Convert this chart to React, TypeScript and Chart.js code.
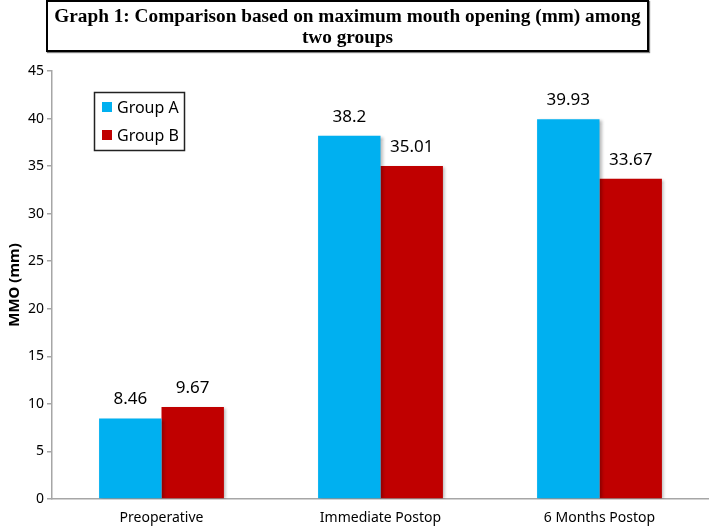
import React, { useEffect, useRef } from "react";
import { Chart, registerables } from "chart.js";

Chart.register(...registerables);

const categories = ["Preoperative", "Immediate Postop", "6 Months Postop"];
const groupA = [8.46, 38.2, 39.93];
const groupB = [9.67, 35.01, 33.67];
const seriesNames = ["Group A", "Group B"];
const seriesColors = ["#00B0F0", "#C00000"];
const yTicks = [0, 5, 10, 15, 20, 25, 30, 35, 40, 45];
const titleLines = ["Graph 1: Comparison based on maximum mouth opening (mm) among", "two groups"];
const yTitle = "MMO (mm)";

const FONT = "'Noto Sans', 'Open Sans', sans-serif";

const shadowPlugin = {
  id: "barShadow",
  beforeDatasetsDraw(chart: any) {
    const ctx = chart.ctx;
    ctx.save();
    ctx.shadowColor = "rgba(0,0,0,0.28)";
    ctx.shadowBlur = 3;
    ctx.shadowOffsetX = 2;
    ctx.shadowOffsetY = 1;
  },
  afterDatasetsDraw(chart: any) {
    chart.ctx.restore();
  },
};

const labelPlugin = {
  id: "valueLabels",
  afterDraw(chart: any) {
    const ctx = chart.ctx;
    ctx.save();
    ctx.font = `17px ${FONT}`;
    ctx.fillStyle = "#000";
    ctx.textAlign = "center";
    ctx.textBaseline = "middle";
    chart.data.datasets.forEach((ds: any, i: number) => {
      const meta = chart.getDatasetMeta(i);
      meta.data.forEach((bar: any, j: number) => {
        ctx.fillText(String(ds.data[j]), bar.x, bar.y - 19);
      });
    });
    ctx.restore();
  },
};

const legendPlugin = {
  id: "insideLegend",
  afterDraw(chart: any) {
    const ctx = chart.ctx;
    const x0 = 94.5, y0 = 92.5, w = 90, h = 58;
    ctx.save();
    ctx.fillStyle = "#fff";
    ctx.fillRect(x0, y0, w, h);
    ctx.strokeStyle = "#222";
    ctx.lineWidth = 1.5;
    ctx.strokeRect(x0, y0, w, h);
    ctx.font = `16px ${FONT}`;
    ctx.textBaseline = "middle";
    ctx.textAlign = "left";
    chart.data.datasets.forEach((ds: any, i: number) => {
      const cy = 107 + i * 28;
      ctx.fillStyle = ds.backgroundColor;
      ctx.fillRect(102, cy - 5, 10, 10);
      ctx.fillStyle = "#000";
      ctx.fillText(ds.label, 117, cy + 1);
    });
    ctx.restore();
  },
};

export default function App() {
  const ref = useRef<HTMLCanvasElement | null>(null);
  useEffect(() => {
    if (!ref.current) return;
    const chart = new Chart(ref.current, {
      type: "bar",
      data: {
        labels: categories,
        datasets: [
          { label: seriesNames[0], data: groupA, backgroundColor: seriesColors[0] },
          { label: seriesNames[1], data: groupB, backgroundColor: seriesColors[1] },
        ],
      },
      options: {
        animation: false,
        responsive: false,
        layout: { padding: { top: 71, left: 0, right: 0, bottom: 0 } },
        datasets: { bar: { categoryPercentage: 0.57, barPercentage: 1.0 } },
        plugins: {
          legend: { display: false },
          tooltip: { enabled: false },
          title: { display: false },
        },
        scales: {
          x: {
            grid: { display: false },
            border: { display: true, color: "#A6A6A6", width: 1.5 },
            ticks: { color: "#000", font: { family: FONT, size: 14 }, padding: 3 },
            afterFit: (s: any) => { s.height = 27; },
          },
          y: {
            min: 0,
            max: 45,
            afterBuildTicks: (s: any) => { s.ticks = yTicks.map((v) => ({ value: v })); },
            grid: { drawOnChartArea: false, drawTicks: true, tickLength: 5, color: "#A6A6A6", lineWidth: 1.5 },
            border: { display: true, color: "#A6A6A6", width: 1.5 },
            ticks: { color: "#000", font: { family: FONT, size: 14 }, padding: 3 },
            title: {
              display: true,
              text: yTitle,
              color: "#000",
              font: { family: FONT, size: 15, weight: "bold" },
              padding: { top: 6, bottom: 0 },
            },
            afterFit: (s: any) => { s.width = 52; },
          },
        },
      },
      plugins: [shadowPlugin, labelPlugin, legendPlugin],
    } as any);
    return () => chart.destroy();
  }, []);

  return (
    <div style={{ position: "absolute", left: 0, top: 0, width: 709, height: 526, background: "#fff" }}>
      <canvas ref={ref} width={709} height={526} style={{ position: "absolute", left: 0, top: 0 }} />
      <div
        style={{
          position: "absolute",
          left: 46,
          top: 0,
          width: 603,
          height: 52,
          boxSizing: "border-box",
          border: "2px solid #000",
          boxShadow: "1px 1px 1px rgba(0,0,0,0.5)",
          background: "#fff",
          fontFamily: "'Liberation Serif', 'Times New Roman', serif",
          fontWeight: "bold",
          fontSize: 19.3,
          lineHeight: "21px",
          textAlign: "center",
          paddingTop: 3,
          whiteSpace: "nowrap",
        }}
      >
        {titleLines.map((t, i) => (
          <div key={i}>{t}</div>
        ))}
      </div>
    </div>
  );
}
